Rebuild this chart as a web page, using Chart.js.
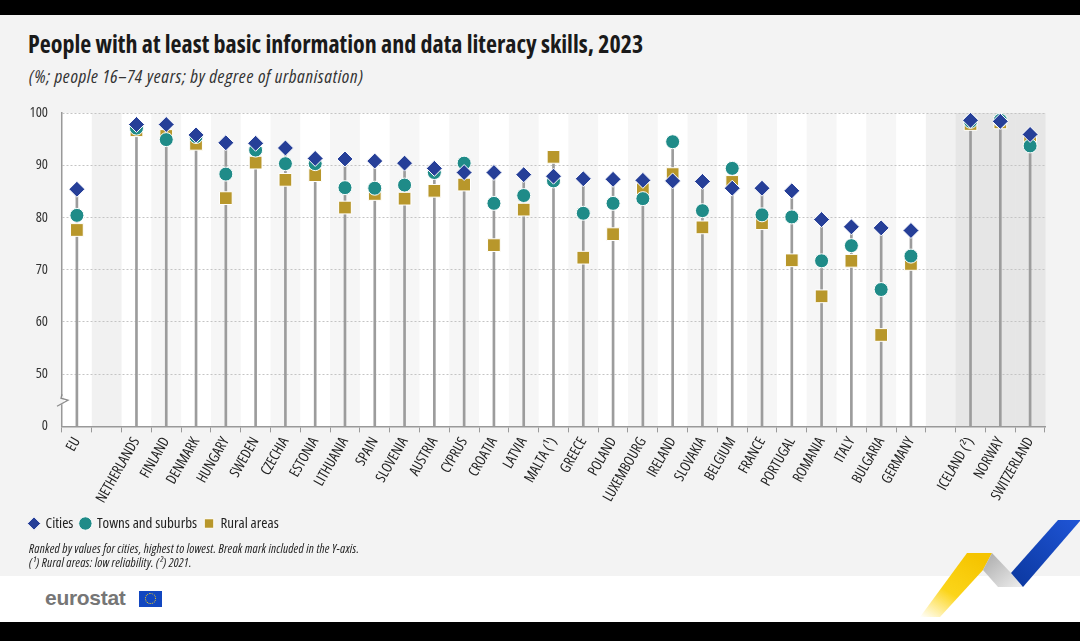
<!DOCTYPE html>
<html>
<head>
<meta charset="utf-8">
<script src="https://cdn.jsdelivr.net/npm/chart.js@4.4.1/dist/chart.umd.min.js"></script>
<style>
  html, body { margin: 0; padding: 0; background: #000; }
  #page { position: relative; width: 1080px; height: 641px; overflow: hidden; background: #000;
          font-family: 'Open Sans', sans-serif; font-stretch: 75%; color: #1a1a1a; }
  #panel { position: absolute; left: 0; top: 15px; width: 1080px; height: 561px; background: #f3f3f3; }
  #strip { position: absolute; left: 0; top: 576px; width: 1080px; height: 46px; background: #fff; }
  #title { position: absolute; left: 28px; top: 30px; font-size: 24px; font-weight: bold; line-height: 28px; white-space: nowrap; }
  #subtitle { position: absolute; left: 29px; top: 66px; font-size: 18.5px; letter-spacing: 0.7px; font-style: italic; line-height: 20px; color: #333; white-space: nowrap; }
  #notes { position: absolute; left: 29px; top: 542px; font-size: 12.5px; letter-spacing: 0.2px; font-style: italic; line-height: 13.5px; color: #222; white-space: nowrap; }
  #wrap { position: absolute; left: 0; top: 90px; width: 1080px; height: 455px; }
  #logo { position: absolute; left: 45px; top: 586px; font-family: 'Liberation Sans', Arial, sans-serif; font-stretch: normal;
          font-weight: bold; font-size: 21px; color: #767676; letter-spacing: -0.3px; }
  #flag { position: absolute; left: 139px; top: 591px; width: 23px; height: 16px; background: #1247c0; }
  #flag div { position: absolute; left: 6px; top: 2px; width: 9px; height: 9px; border: 1.5px dotted #ffd617; border-radius: 50%; }
  #ribbon { position: absolute; left: 0; top: 0; }
</style>
</head>
<body>
<div id="page">
  <div id="panel"></div>
  <div id="strip"></div>
  <div id="title">People with at least basic information and data literacy skills, 2023</div>
  <div id="subtitle">(%; people 16–74 years; by degree of urbanisation)</div>
  <div id="wrap"><canvas id="chart"></canvas></div>
  <div id="notes">Ranked by values for cities, highest to lowest. Break mark included in the Y-axis.<br>(¹) Rural areas: low reliability. (²) 2021.</div>
  <div id="logo">eurostat</div>
  <div id="flag"><div></div></div>
  <svg id="ribbon" width="1080" height="622">
    <defs>
      <linearGradient id="gy" x1="0" y1="1" x2="0.7" y2="0">
        <stop offset="0" stop-color="#ffd200" stop-opacity="0"/>
        <stop offset="0.45" stop-color="#fbd000" stop-opacity="0.9"/>
        <stop offset="1" stop-color="#f5c400"/>
      </linearGradient>
      <linearGradient id="gg" x1="0" y1="0" x2="1" y2="1">
        <stop offset="0" stop-color="#a9a9a9"/>
        <stop offset="1" stop-color="#eeeeee"/>
      </linearGradient>
      <linearGradient id="gb" x1="1" y1="0" x2="0" y2="1">
        <stop offset="0" stop-color="#1f55d6"/>
        <stop offset="1" stop-color="#0b379e"/>
      </linearGradient>
    </defs>
    <polygon points="967,553 992,553 983,570 940,617 920,617" fill="url(#gy)"/>
    <polygon points="992,553 1011,573 1023,587 998,587 983,570" fill="url(#gg)"/>
    <polygon points="1058,520 1080,520 1080,521 1023,587 1011,573" fill="url(#gb)"/>
  </svg>
</div>
<script>
const countries = ['EU', '', 'NETHERLANDS', 'FINLAND', 'DENMARK', 'HUNGARY', 'SWEDEN', 'CZECHIA', 'ESTONIA',
  'LITHUANIA', 'SPAIN', 'SLOVENIA', 'AUSTRIA', 'CYPRUS', 'CROATIA', 'LATVIA', 'MALTA (¹)', 'GREECE', 'POLAND',
  'LUXEMBOURG', 'IRELAND', 'SLOVAKIA', 'BELGIUM', 'FRANCE', 'PORTUGAL', 'ROMANIA', 'ITALY', 'BULGARIA',
  'GERMANY', '', 'ICELAND (²)', 'NORWAY', 'SWITZERLAND'];
const cities = [85.4, null, 97.8, 97.8, 95.8, 94.3, 94.2, 93.3, 91.3, 91.2, 90.8, 90.4, 89.4, 88.6, 88.6, 88.2,
  87.9, 87.4, 87.3, 87.1, 87.0, 86.9, 85.6, 85.6, 85.1, 79.6, 78.2, 78.0, 77.5, null, 98.6, 98.4, 95.9];
const towns = [80.4, null, 97.1, 94.9, 95.5, 88.3, 92.9, 90.3, 90.3, 85.7, 85.6, 86.2, 88.6, 90.4, 82.7, 84.2,
  87.0, 80.8, 82.7, 83.6, 94.5, 81.3, 89.4, 80.5, 80.1, 71.7, 74.6, 66.2, 72.6, null, 98.4, 98.6, 93.7];
const rural = [77.6, null, 96.7, 95.6, 94.1, 83.7, 90.5, 87.2, 88.1, 81.9, 84.5, 83.6, 85.1, 86.3, 74.7, 81.5,
  91.6, 72.3, 76.8, 85.4, 88.3, 78.1, 86.8, 78.9, 71.8, 64.9, 71.7, 57.5, 71.1, null, 97.9, 98.2, 95.0];
// axis is broken: the bottom step (40) stands for 0
const yTickValues = [40, 50, 60, 70, 80, 90, 100];
const yTickLabels = ['0', '50', '60', '70', '80', '90', '100'];
const axisBase = 40;
const efta = ['ICELAND (²)', 'NORWAY', 'SWITZERLAND'];

const stems = countries.map((c, i) => {
  const vals = [cities[i], towns[i], rural[i]].filter(v => v !== null);
  return vals.length ? [axisBase, Math.max(...vals)] : null;
});

const bands = {
  id: 'bands',
  beforeDraw(chart) {
    const {ctx, chartArea, scales: {x}} = chart;
    const w = x.getPixelForValue(1) - x.getPixelForValue(0);
    ctx.save();
    countries.forEach((c, i) => {
      let col = i % 2 ? '#f6f6f6' : '#ffffff';
      if (c === '') col = '#f1f1f1';
      if (efta.includes(c)) col = '#e6e6e6';
      ctx.fillStyle = col;
      ctx.fillRect(x.getPixelForValue(i) - w / 2, chartArea.top, w + 0.5, chartArea.bottom - chartArea.top);
    });
    ctx.restore();
  }
};

const breakMark = {
  id: 'breakMark',
  afterDraw(chart) {
    const {ctx, chartArea, scales: {y}} = chart;
    const px = chartArea.left;
    const py = y.getPixelForValue(45);
    ctx.save();
    ctx.fillStyle = '#f3f3f3';
    ctx.fillRect(px - 2, py - 4, 4, 8);
    ctx.strokeStyle = '#8c8c8c';
    ctx.lineWidth = 1.3;
    ctx.beginPath();
    ctx.moveTo(px - 5, py + 6);
    ctx.lineTo(px + 6, py);
    ctx.lineTo(px - 1, py - 2);
    ctx.lineTo(px, py - 6);
    ctx.stroke();
    ctx.restore();
  }
};

// 'condensed' goes into the canvas font string, so Open Sans is drawn at 75% width
Chart.defaults.font.family = "'Open Sans', sans-serif";
Chart.defaults.font.weight = 'condensed';
Chart.defaults.color = '#222';

new Chart(document.getElementById('chart'), {
  data: {
    labels: countries,
    datasets: [
      {
        type: 'line', label: 'Cities', data: cities, showLine: false, order: 1,
        pointStyle: 'rectRot', pointRadius: 8, pointHoverRadius: 8,
        backgroundColor: '#263f98', borderColor: '#ffffff', pointBorderWidth: 1,
      },
      {
        type: 'line', label: 'Towns and suburbs', data: towns, showLine: false, order: 2,
        pointStyle: 'circle', pointRadius: 7, pointHoverRadius: 7,
        backgroundColor: '#1f8b88', borderColor: '#ffffff', pointBorderWidth: 1,
      },
      {
        type: 'line', label: 'Rural areas', data: rural, showLine: false, order: 3,
        pointStyle: 'rect', pointRadius: 9, pointHoverRadius: 9,
        backgroundColor: '#b8972b', borderColor: '#ffffff', pointBorderWidth: 1,
      },
      {
        type: 'bar', label: 'stem', data: stems, order: 4,
        barThickness: 2, backgroundColor: '#9c9c9c',
      },
    ],
  },
  options: {
    responsive: true,
    maintainAspectRatio: false,
    animation: false,
    layout: { padding: { left: 22, right: 35, top: 23, bottom: 4 } },
    scales: {
      x: {
        ticks: { autoSkip: false, maxRotation: 60, minRotation: 60, font: { size: 14.5 }, color: '#222', padding: 2 },
        grid: { offset: true, drawOnChartArea: false, tickLength: 6, color: '#999', lineWidth: 1 },
        border: { color: '#999', width: 1.5 },
      },
      y: {
        min: 40,
        max: 100,
        afterFit(scale) { scale.width = 40; },
        afterBuildTicks(scale) { scale.ticks = yTickValues.map(v => ({ value: v })); },
        ticks: {
          padding: 14, font: { size: 14.5 }, color: '#333',
          callback: (v) => yTickLabels[yTickValues.indexOf(v)],
        },
        grid: {
          drawTicks: false, lineWidth: 1,
          color: (c) => (c.tick && c.tick.value === axisBase ? 'rgba(0,0,0,0)' : '#c4c4c4'),
        },
        border: { color: '#999', width: 1.5, dash: [2, 2] },
      },
    },
    plugins: {
      legend: {
        position: 'bottom',
        align: 'start',
        labels: {
          usePointStyle: true, boxWidth: 8, boxHeight: 9.5, padding: 8,
          font: { size: 15 }, color: '#222',
          filter: (item) => item.text !== 'stem',
        },
      },
      tooltip: { enabled: false },
    },
  },
  plugins: [bands, breakMark],
});
</script>
</body>
</html>
